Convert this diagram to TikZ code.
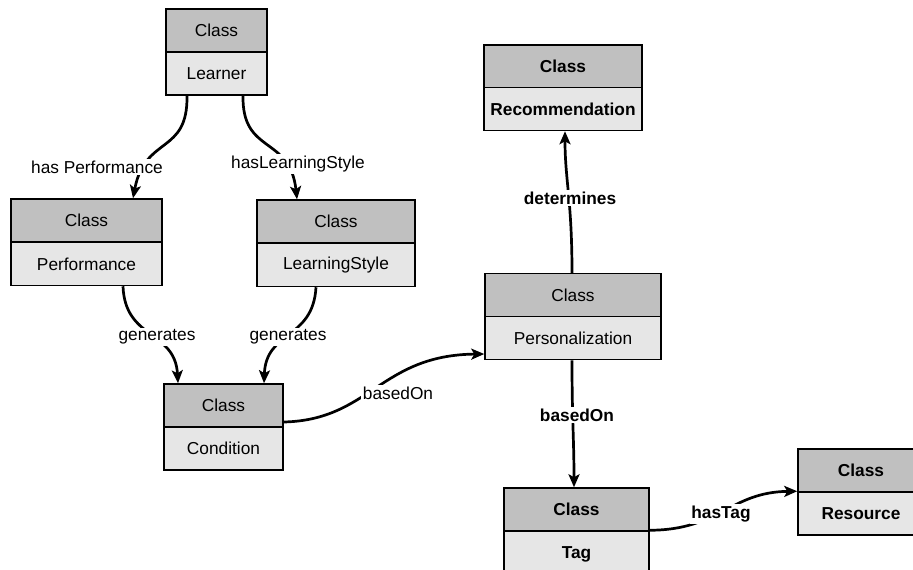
\documentclass[tikz,border=0pt]{standalone}
\usepackage{fontspec}
\setmainfont{Liberation Sans}
\usetikzlibrary{arrows.meta}
\definecolor{clsTop}{HTML}{C0C0C0}
\definecolor{clsBot}{HTML}{E6E6E6}
\begin{document}
\begin{tikzpicture}[x=1pt,y=-1pt,
  part/.style={draw=black, line width=1.5pt, rectangle, inner sep=0pt, align=center,
    font=\fontsize{17.3}{20}\selectfont},
  hd/.style={part, fill=clsTop, minimum height=43pt},
  bd/.style={part, fill=clsBot, minimum height=43pt},
  conn/.style={line width=2.7pt, -{Stealth[length=13pt,width=11pt,inset=3pt]}},
  lbl/.style={fill=white, inner sep=1.5pt, font=\fontsize{17.3}{20}\selectfont},
  blbl/.style={lbl, font=\fontsize{17.3}{20}\selectfont\bfseries}
]
\path[use as bounding box, clip] (0,0) rectangle (913,570);

% Learner
\node[hd, minimum width=101pt] (learnerT) at (216.5,30.5) {Class};
\node[bd, minimum width=101pt] (learner) at (216.5,73.5) {Learner};
% Performance
\node[hd, minimum width=151pt] (perfT) at (86.5,220.5) {Class};
\node[bd, minimum width=151pt] (perf) at (86.5,264) {Performance};
% LearningStyle
\node[hd, minimum width=158pt] (lsT) at (336,221.5) {Class};
\node[bd, minimum width=158pt] (ls) at (336,265) {LearningStyle};
% Condition
\node[hd, minimum width=119pt] (condT) at (223.5,405.5) {Class};
\node[bd, minimum width=119pt] (cond) at (223.5,448.5) {Condition};
% Recommendation
\node[hd, minimum width=158pt, font=\fontsize{17.3}{20}\selectfont\bfseries] (recT) at (563,66.5) {Class};
\node[bd, minimum width=158pt, font=\fontsize{17.3}{20}\selectfont\bfseries] (rec) at (563,109) {Recommendation};
% Personalization
\node[hd, minimum width=176pt] (persT) at (573,295) {Class};
\node[bd, minimum width=176pt] (pers) at (573,338) {Personalization};
% Tag
\node[hd, minimum width=145pt, font=\fontsize{17.3}{20}\selectfont\bfseries] (tagT) at (576.5,509.5) {Class};
\node[bd, minimum width=145pt, minimum height=46pt, font=\fontsize{17.3}{20}\selectfont\bfseries] (tag) at (576.5,554) {Tag};
% Resource
\node[hd, minimum width=126pt, font=\fontsize{17.3}{20}\selectfont\bfseries] (resT) at (861,470.5) {Class};
\node[bd, minimum width=126pt, font=\fontsize{17.3}{20}\selectfont\bfseries] (res) at (861,513.5) {Resource};

% connectors
\draw[conn] ([xshift=-29.5pt]learner.south) .. controls (188,155) and (145,135) .. ([xshift=46.5pt]perfT.north);
\draw[conn] ([xshift=26.5pt]learner.south) .. controls (242,155) and (290,135) .. ([xshift=-39pt]lsT.north);
\draw[conn] ([xshift=36.5pt]perf.south) .. controls (125,340) and (175,330) .. ([xshift=-45.5pt]condT.north);
\draw[conn] ([xshift=-20pt]ls.south) .. controls (313,340) and (266,330) .. ([xshift=40.5pt]condT.north);
\draw[conn] ([yshift=-16.5pt]condT.east) .. controls (370,420) and (380,355) .. ([yshift=-16pt]pers.west);
\draw[conn] ([xshift=-1pt]persT.north) .. controls (572,200) and (565,180) .. ([xshift=2pt]rec.south);
\draw[conn] ([xshift=-1pt]pers.south) .. controls (572,420) and (574,440) .. ([xshift=-2.5pt]tagT.north);
\draw[conn] (tag.north east) .. controls (720,530) and (730,492) .. (res.north west);

% labels
\node[lbl] (l1) at (97,167) {has Performance};
\node[lbl] (l2) at (298,164) {hasLearningStyle};
\node[lbl] (l3) at (157,337) {generates};
\node[lbl] (l4) at (288,337) {generates};
\node[lbl] (l5) at (398,393) {basedOn};
\node[blbl] (l6) at (570,198) {determines};
\node[blbl] (l7) at (577,415) {basedOn};
\node[blbl] (l8) at (721,514) {hasTag};
\end{tikzpicture}
\end{document}
